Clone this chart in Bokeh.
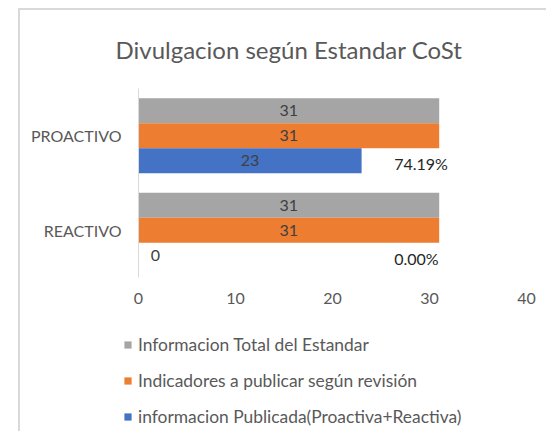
from bokeh.plotting import figure
from bokeh.layouts import column
from bokeh.models import ColumnDataSource, FactorRange, Range1d, Legend, LegendItem, FixedTicker
from bokeh.transform import dodge
from bokeh.embed import file_html
from bokeh.resources import INLINE
from bokeh.core.properties import value

# ---- data ----
categories = ["PROACTIVO", "REACTIVO"]
total_estandar = [31, 31]
indicadores = [31, 31]
publicada = [23, 0]
porcentaje = ["74.19%", "0.00%"]
series_names = ["Informacion Total del Estandar",
                "Indicadores a publicar según revisión",
                "informacion Publicada(Proactiva+Reactiva)"]
series_colors = ["#A5A5A5", "#ED7D31", "#4472C4"]
x_ticks = [0, 10, 20, 30, 40]

FONT = "Lato"
TXT = "#595959"
LBL = "#404040"

p = figure(width=526, height=300, output_backend="svg", toolbar_location=None,
           x_range=Range1d(0, 40),
           y_range=FactorRange(factors=list(reversed(categories)), range_padding=0),
           min_border_left=118, min_border_right=20, min_border_top=78, min_border_bottom=33)
p.frame_align = False
p.outline_line_color = None
p.xgrid.grid_line_color = None
p.ygrid.grid_line_color = None

p.title.text = "Divulgacion según Estandar CoSt"
p.title.align = "left"
p.title.offset = -33
p.title.padding = 10
p.title.vertical_align = "top"
p.title.standoff = 26
p.title.text_font = FONT
p.title.text_font_style = "normal"
p.title.text_font_size = "24px"
p.title.text_color = TXT

series_values = [total_estandar, indicadores, publicada]
offsets = [0.265, 0.0, -0.265]
for name, vals, col, off in zip(series_names, series_values, series_colors, offsets):
    src = ColumnDataSource(dict(
        cat=categories, val=vals,
        mid=[v / 2 for v in vals],
        lbl=[str(v) for v in vals],
        xo=[17 if v == 0 else 0 for v in vals],
    ))
    p.hbar(y=dodge("cat", off, range=p.y_range), left=0, right="val", height=0.265,
           fill_color=col, line_color=None, source=src)
    p.text(x="mid", y=dodge("cat", off, range=p.y_range), text="lbl", source=src,
           x_offset="xo", text_align="center", text_baseline="middle",
           text_font=value(FONT), text_font_size="16px", text_color=LBL)

pct_src = ColumnDataSource(dict(cat=categories, x=total_estandar, t=porcentaje))
p.text(x="x", y=dodge("cat", -0.265, range=p.y_range), text="t", source=pct_src,
       x_offset=-45, y_offset=3, text_align="left", text_baseline="middle",
       text_font=value(FONT), text_font_size="16px", text_color="#262626")

# axes
p.xaxis.ticker = FixedTicker(ticks=x_ticks)
p.xaxis.axis_line_color = None
p.xaxis.major_tick_line_color = None
p.xaxis.minor_tick_line_color = None
p.xaxis.major_tick_out = 0
p.xaxis.major_label_standoff = 15
p.xaxis.major_label_text_font = FONT
p.xaxis.major_label_text_font_size = "16px"
p.xaxis.major_label_text_color = TXT

p.yaxis.axis_line_color = "#D9D9D9"
p.yaxis.major_tick_line_color = None
p.yaxis.minor_tick_line_color = None
p.yaxis.major_tick_out = 0
p.yaxis.major_label_standoff = 17
p.yaxis.major_label_text_font = FONT
p.yaxis.major_label_text_font_size = "16px"
p.yaxis.major_label_text_color = TXT

# legend figure
pl = figure(width=526, height=121, output_backend="svg", toolbar_location=None,
            x_axis_type=None, y_axis_type=None,
            x_range=Range1d(0, 1), y_range=Range1d(0, 1),
            min_border_left=0, min_border_right=0, min_border_top=0, min_border_bottom=0)
pl.frame_align = False
pl.outline_line_color = None
pl.xgrid.grid_line_color = None
pl.ygrid.grid_line_color = None
items = []
for name, col in zip(series_names, series_colors):
    r = pl.hbar(y=[10], right=[1], left=0, height=0.1, fill_color=col, line_color=None)
    r.visible = False
    items.append(LegendItem(label=name, renderers=[r]))
legend = Legend(items=items, orientation="vertical", location=(103, 4),
                glyph_width=9, glyph_height=9, label_height=20, spacing=15,
                label_standoff=6, label_text_font=FONT, label_text_font_size="17.4px",
                label_text_color=TXT, border_line_color=None, background_fill_alpha=0,
                inactive_fill_alpha=0, margin=0, padding=0)
pl.add_layout(legend)

layout = column(p, pl, spacing=0, margin=(8, 0, 0, 18),
                styles={"border-top": "2px solid #D9D9D9", "border-left": "2px solid #D9D9D9"})

open("out.html", "w").write(file_html(layout, INLINE))
